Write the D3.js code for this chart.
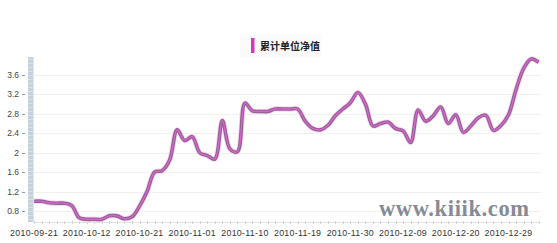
<!DOCTYPE html>
<html><head><meta charset="utf-8">
<script src="https://cdn.jsdelivr.net/npm/d3@7"></script>
<style>html,body{margin:0;padding:0;background:#fff;overflow:hidden}svg{display:block}</style>
</head><body>
<svg id="c" width="557" height="243"></svg>
<script>
const title = "累计单位净值";
const watermark = "www.kiiik.com";
const xTickLabels = ["2010-09-21","2010-10-12","2010-10-21","2010-11-01","2010-11-10","2010-11-19","2010-11-30","2010-12-09","2010-12-20","2010-12-29"];
const xTickIndex = [0,7,14,21,28,35,42,49,56,63];
const yTicks = [0.8,1.2,1.6,2,2.4,2.8,3.2,3.6];
const yTickLabels = ["0.8","1.2","1.6","2","2.4","2.8","3.2","3.6"];
const navValues = [1.0,1.0,0.97,0.96,0.96,0.91,0.66,0.63,0.63,0.63,
  0.70,0.70,0.64,0.68,0.90,1.20,1.60,1.63,1.85,2.47,
  2.25,2.33,2.0,1.94,1.87,2.66,2.08,2.02,3.02,2.86,
  2.85,2.85,2.9,2.9,2.9,2.9,2.65,2.5,2.47,2.56,
  2.76,2.9,3.03,3.24,3.0,2.55,2.6,2.63,2.5,2.45,
  2.21,2.88,2.65,2.76,2.94,2.6,2.78,2.42,2.55,2.72,
  2.77,2.46,2.56,2.78,3.3,3.73,3.93,3.86];

const svg = d3.select("#c");
const x = d3.scaleLinear().domain([0, 63]).range([34.1, 508.5]);
const y = d3.scaleLinear().domain([0.8, 3.6]).range([211, 75]);
const plotLeft = 34, plotRight = 541, plotTop = 57, plotBottom = 222;

// gridlines
svg.append("g").selectAll("line").data(yTicks).join("line")
  .attr("x1", plotLeft).attr("x2", plotRight)
  .attr("y1", d => Math.round(y(d)) + 0.5).attr("y2", d => Math.round(y(d)) + 0.5)
  .attr("stroke", "#f0f0f0").attr("stroke-width", 1);

// y axis textured bar
const bar = svg.append("g");
bar.append("rect").attr("x", 28).attr("y", plotTop).attr("width", 5.5).attr("height", plotBottom - plotTop)
  .attr("fill", "#c4d0da");
bar.selectAll("line").data(d3.range(plotTop + 2, plotBottom, 4)).join("line")
  .attr("x1", 28).attr("x2", 33.5).attr("y1", d => d + 0.5).attr("y2", d => d + 0.5)
  .attr("stroke", "#d8e1e8").attr("stroke-width", 1);

// y ticks & labels
const yg = svg.append("g");
yg.selectAll("line").data(yTicks).join("line")
  .attr("x1", 22).attr("x2", 25).attr("y1", d => Math.round(y(d)) + 0.5).attr("y2", d => Math.round(y(d)) + 0.5)
  .attr("stroke", "#999");
yg.selectAll("text").data(yTicks).join("text")
  .attr("x", 19).attr("y", d => y(d) + 3)
  .attr("text-anchor", "end").attr("font-family", "Liberation Sans, Arial, sans-serif")
  .attr("font-size", 8.5).attr("fill", "#444")
  .text((d, i) => yTickLabels[i]);

// x axis line and ticks
svg.append("line").attr("x1", plotLeft).attr("x2", plotRight).attr("y1", plotBottom + 0.5).attr("y2", plotBottom + 0.5)
  .attr("stroke", "#e2e2e2");
svg.append("g").selectAll("line").data(d3.range(navValues.length)).join("line")
  .attr("x1", d => Math.round(x(d)) + 0.5).attr("x2", d => Math.round(x(d)) + 0.5)
  .attr("y1", plotBottom - 1).attr("y2", plotBottom + 2)
  .attr("stroke", "#d4d4d4");
svg.append("g").selectAll("text").data(xTickIndex).join("text")
  .attr("x", d => x(d)).attr("y", 236)
  .attr("text-anchor", "middle").attr("font-family", "Liberation Sans, Arial, sans-serif")
  .attr("font-size", 8.8).attr("fill", "#333").attr("letter-spacing", 0.3)
  .text((d, i) => xTickLabels[i]);

// watermark
svg.append("text").attr("x", 379).attr("y", 216)
  .attr("font-family", "Liberation Serif, serif").attr("font-weight", "bold")
  .attr("font-size", 22.5).attr("fill", "#858b96").attr("textLength", 150)
  .text(watermark);

// line
const line = d3.line().x((d, i) => x(i)).y(d => y(d)).curve(d3.curveCatmullRom.alpha(0.5));
svg.append("path").datum(navValues).attr("d", line).attr("fill", "none")
  .attr("stroke", "#f5ddf2").attr("stroke-width", 5.5).attr("stroke-linejoin", "round");
svg.append("path").datum(navValues).attr("d", line).attr("fill", "none")
  .attr("stroke", "#8f6390").attr("stroke-width", 3.6).attr("stroke-linejoin", "round");
svg.append("path").datum(navValues).attr("d", line).attr("fill", "none")
  .attr("stroke", "#de62d2").attr("stroke-width", 1.3).attr("stroke-linejoin", "round");

// legend
svg.append("rect").attr("x", 240).attr("y", 34).attr("width", 82).attr("height", 24).attr("fill", "#fbfbfb");
svg.append("rect").attr("x", 251).attr("y", 38).attr("width", 3.5).attr("height", 15).attr("fill", "#d438c0");
svg.append("text").attr("x", 260).attr("y", 50)
  .attr("font-family", "Noto Sans CJK SC, sans-serif").attr("font-weight", "bold")
  .attr("font-size", 10).attr("fill", "#222").attr("letter-spacing", 0)
  .text(title);
</script>
</body></html>
